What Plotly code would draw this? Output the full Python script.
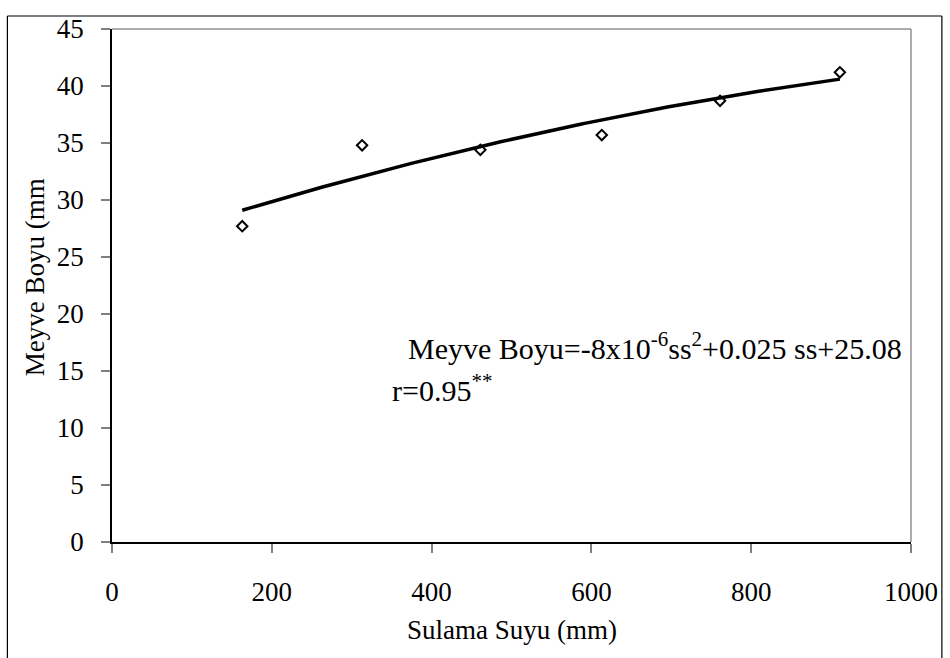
import numpy as np
import plotly.graph_objects as go

# Irrigation water (mm) and measured fruit length (mm)
sulama_suyu = [163, 313, 461, 613, 761, 911]
meyve_boyu = [27.7, 34.8, 34.4, 35.7, 38.7, 41.2]

x_tick_vals = [0, 200, 400, 600, 800, 1000]
y_tick_vals = [0, 5, 10, 15, 20, 25, 30, 35, 40, 45]

equation_text = "Meyve Boyu=-8x10<sup>-6</sup>ss<sup>2</sup>+0.025 ss+25.08"
r_text = "r=0.95<sup>**</sup>"

# Second-order polynomial trendline fitted to the observations
coef = np.polyfit(sulama_suyu, meyve_boyu, 2)
trend_x = np.linspace(min(sulama_suyu), max(sulama_suyu), 200)
trend_y = np.polyval(coef, trend_x)

FONT = "Liberation Serif"

fig = go.Figure()
fig.add_trace(go.Scatter(
    x=trend_x, y=trend_y, mode="lines",
    line=dict(color="black", width=3.5),
    hoverinfo="skip", showlegend=False,
))
fig.add_trace(go.Scatter(
    x=sulama_suyu, y=meyve_boyu, mode="markers",
    marker=dict(symbol="diamond-open", size=8, color="black",
                line=dict(color="black", width=2)),
    showlegend=False,
))

fig.update_layout(
    width=950, height=658,
    margin=dict(l=112, r=36, t=29, b=116),
    paper_bgcolor="white", plot_bgcolor="white",
    font=dict(family=FONT, size=27, color="black"),
    xaxis=dict(
        range=[0, 1000], tickvals=x_tick_vals, showgrid=False, zeroline=False,
        showline=True, linecolor="black", linewidth=1.5,
        ticks="outside", ticklen=9, tickcolor="#808080", tickwidth=1.5,
        ticklabelstandoff=16, tickfont=dict(family=FONT, size=27),
    ),
    yaxis=dict(
        range=[0, 45], tickvals=y_tick_vals, showgrid=False, zeroline=False,
        showline=True, linecolor="black", linewidth=1.5,
        ticks="outside", ticklen=9, tickcolor="#808080", tickwidth=1.5,
        ticklabelstandoff=12, tickfont=dict(family=FONT, size=27),
    ),
    shapes=[
        # gray top and right edges of the plot area
        dict(type="line", xref="paper", yref="paper", x0=0, x1=1, y0=1, y1=1,
             line=dict(color="#909090", width=1.5)),
        dict(type="line", xref="paper", yref="paper", x0=1, x1=1, y0=0, y1=1,
             line=dict(color="#909090", width=1.5)),
        # outer chart frame
        dict(type="line", xref="paper", yref="paper",
             x0=-105 / 802, x1=-105 / 802, y0=-0.3, y1=526 / 513,
             line=dict(color="black", width=1.2)),
        dict(type="line", xref="paper", yref="paper",
             x0=-105 / 802, x1=833 / 802, y0=526 / 513, y1=526 / 513,
             line=dict(color="black", width=1.2)),
        dict(type="line", xref="paper", yref="paper",
             x0=833 / 802, x1=833 / 802, y0=-0.3, y1=526 / 513,
             line=dict(color="black", width=1.2)),
    ],
    annotations=[
        dict(text="Sulama Suyu (mm)", xref="paper", yref="paper",
             x=0.5, y=-88 / 513, xanchor="center", yanchor="middle",
             showarrow=False, font=dict(family=FONT, size=27)),
        dict(text="Meyve Boyu (mm", xref="paper", yref="paper",
             x=-77 / 802, y=265 / 513, xanchor="center", yanchor="middle",
             textangle=-90, showarrow=False, font=dict(family=FONT, size=27)),
        dict(text=equation_text, xref="x", yref="y",
             x=368.5, y=17.2, xanchor="left", yanchor="middle",
             showarrow=False, font=dict(family=FONT, size=30)),
        dict(text=r_text, xref="x", yref="y",
             x=348.5, y=13.5, xanchor="left", yanchor="middle",
             showarrow=False, font=dict(family=FONT, size=30)),
    ],
)

fig.write_html("out.html")
